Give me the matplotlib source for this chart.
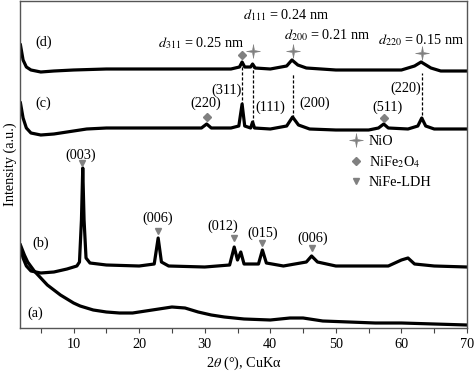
import numpy as np
import matplotlib
matplotlib.use("Agg")
import matplotlib.pyplot as plt
from matplotlib.lines import Line2D
from matplotlib.path import Path

plt.rcParams['font.family'] = ['Liberation Serif', 'DejaVu Serif']
plt.rcParams['mathtext.fontset'] = 'stix'
plt.rcParams['font.size'] = 10.3

# XRD traces (intensity in arbitrary units)
x_d = [1.9, 2.3, 2.8, 3.5, 5, 7, 10, 15, 20, 25, 30, 34, 35.3, 35.7, 36.1, 37.0, 37.3, 37.7,
       40, 42.5, 43.3, 44.2, 45.5, 50, 55, 60, 62, 63.0, 64.5, 66, 70]
y_d = [283, 268, 261, 258, 256, 257, 258, 259, 259, 259, 259, 259, 261, 266, 261, 261, 264, 260,
       259, 262, 268, 263, 260, 258, 258, 258, 262, 266, 260, 257, 257]

x_c = [1.9, 2.3, 2.8, 3.5, 5, 7, 9, 12, 15, 20, 25, 29.5, 30.3, 31, 34, 35.2, 35.7, 36.1,
       37.0, 37.3, 37.6, 40, 42.5, 43.4, 44.3, 46, 50, 55, 56.5, 57.3, 58, 61, 62.5, 63.1,
       63.7, 65, 70]
y_c = [225, 210, 200, 195, 193, 194, 196, 199, 200, 200, 200, 200, 204, 200, 200, 202, 224, 202,
       200, 206, 200, 199, 202, 211, 203, 199, 198, 198, 200, 204, 200, 199, 202, 210,
       202, 199, 199]

x_b = [1.9, 2.3, 2.8, 3.5, 5, 7, 9, 10.5, 10.9, 11.2, 11.4, 11.6, 11.9, 12.5, 15, 20, 22.3,
       22.9, 23.4, 24.5, 30, 33.8, 34.5, 35.0, 35.5, 36, 38.2, 38.8, 39.4, 42, 45.5, 46.3,
       47.2, 50, 55, 58, 60, 61, 62, 65, 70]
y_b = [81, 70, 62, 57, 55, 56, 59, 62, 66, 108, 160, 108, 70, 65, 63, 62, 64,
       90, 66, 62, 61, 63, 81, 68, 76, 64, 64, 78, 65, 62, 66, 72,
       66, 62, 62, 62, 68, 70, 64, 62, 61]

x_a = [1.9, 2.5, 3, 4, 5, 6, 7, 8, 9, 10, 11, 12, 13, 15, 17, 19, 21, 23, 25, 27, 29, 31,
       33, 36, 40, 43, 45, 48, 52, 56, 60, 65, 70]
y_a = [83, 73, 66, 57, 50, 43, 38, 33, 29, 25, 22, 20, 18, 16, 15, 15, 17, 19, 21, 20, 16, 13,
       11, 9, 8, 10, 10, 7, 6, 5, 5, 4, 3]

# sample labels
sample_labels = ['(d)', '(c)', '(b)', '(a)']
sample_x = [5.4, 5.4, 5.0, 4.2]
sample_y = [286, 225, 85, 15]

# NiFe-LDH reflections on trace (b)
ldh_x = [11.3, 22.9, 34.4, 38.8, 46.4]
ldh_y = [165, 97, 90, 85, 80]
ldh_hkl = ['(003)', '(006)', '(012)', '(015)', '(006)']
ldh_lx = [11.1, 22.8, 32.8, 38.9, 46.4]
ldh_ly = [173, 110, 102, 95, 90]

# NiO reflections on trace (d)
nio_x = [37.3, 43.4, 63.1]
nio_y = [277, 277, 275]
# NiFe2O4 reflections
fer_x = [35.7, 30.3, 57.3]
fer_y = [273, 211, 210]

# dashed guide lines (x, top, bottom)
guide_x = [35.7, 37.4, 43.4, 63.2]
guide_top = [263, 263, 255, 255]
guide_bot = [223, 200, 210, 208]

# hkl labels on trace (c)
c_hkl = ['(220)', '(311)', '(111)', '(200)', '(511)', '(220)']
c_lx = [30.2, 33.3, 40.0, 46.8, 57.8, 60.7]
c_ly = [225, 238, 221, 225, 221, 240]

# d-spacing labels on trace (d)
d_text = [r'$d_{311}$ = 0.25 nm', r'$d_{111}$ = 0.24 nm', r'$d_{200}$ = 0.21 nm',
          r'$d_{220}$ = 0.15 nm']
d_lx = [29.4, 42.4, 48.7, 63.0]
d_ly = [285, 313, 293, 288]

grey = '#808080'
# thin four-pointed star
r = 0.14
star = Path([(0, 1), (r, r), (1, 0), (r, -r), (0, -1), (-r, -r), (-1, 0), (-r, r), (0, 1)],
            [Path.MOVETO] + [Path.LINETO] * 7 + [Path.CLOSEPOLY])

fig = plt.figure(figsize=(4.74, 3.78), dpi=100)
ax = fig.add_axes([20 / 474, 50 / 378, 447 / 474, 327 / 378])

for xs, ys in [(x_a, y_a), (x_b, y_b), (x_c, y_c), (x_d, y_d)]:
    ax.plot(xs, ys, color='black', lw=2.3, solid_joinstyle='round')

for gx, gt, gb in zip(guide_x, guide_top, guide_bot):
    ax.plot([gx, gx], [gb, gt], color='black', lw=0.9, ls=(0, (2.5, 1.5)))

ax.plot(ldh_x, ldh_y, 'v', color=grey, ms=4.5, ls='none')
ax.plot(nio_x, nio_y, marker=star, color=grey, ms=10, ls='none', mew=0.4)
ax.plot(fer_x, fer_y, 'D', color=grey, ms=3.6, ls='none')

for t, lx, ly in zip(sample_labels, sample_x, sample_y):
    ax.text(lx, ly, t, ha='center', va='center')
for t, lx, ly in zip(ldh_hkl, ldh_lx, ldh_ly):
    ax.text(lx, ly, t, ha='center', va='center')
for t, lx, ly in zip(c_hkl, c_lx, c_ly):
    ax.text(lx, ly, t, ha='center', va='center')
for t, lx, ly in zip(d_text, d_lx, d_ly):
    ax.text(lx, ly, t, ha='center', va='center')

handles = [Line2D([], [], marker=star, color=grey, ms=10, ls='none', mew=0.4),
           Line2D([], [], marker='D', color=grey, ms=3.6, ls='none'),
           Line2D([], [], marker='v', color=grey, ms=4.5, ls='none')]
ax.legend(handles, ['NiO', r'NiFe$_2$O$_4$', 'NiFe-LDH'], frameon=False,
          loc='upper left', bbox_to_anchor=(0.72, 0.613), handlelength=1.0,
          handletextpad=0.4, labelspacing=0.45, borderpad=0)

ax.set_xlim(1.83, 70)
ax.set_ylim(0, 327)
ax.set_xticks([10, 20, 30, 40, 50, 60, 70])
ax.set_xticks([5, 15, 25, 35, 45, 55, 65], minor=True)
ax.set_yticks([])
ax.tick_params(axis='x', which='both', direction='out', length=3.5, width=0.8,
               colors='#444444', labelcolor='black')
for s in ax.spines.values():
    s.set_color('#555555')
    s.set_linewidth(1.0)

ax.set_xlabel(r'2$\theta$ (°), CuKα', labelpad=3)
ax.set_ylabel('Intensity (a.u.)', labelpad=2)

fig.savefig('out.png', dpi=100)
